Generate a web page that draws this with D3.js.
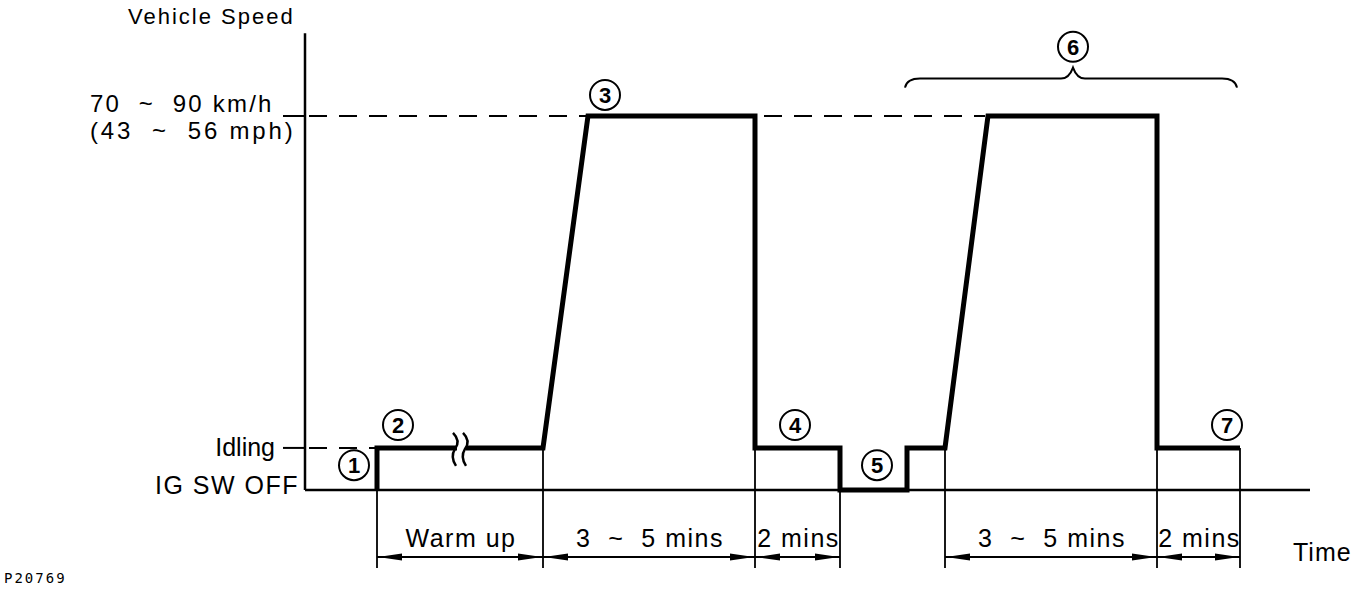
<!DOCTYPE html>
<html>
<head>
<meta charset="utf-8">
<title>Vehicle speed pattern</title>
<script src="https://cdnjs.cloudflare.com/ajax/libs/d3/7.8.5/d3.min.js"></script>
<style>
  body { margin: 0; background: #fff; }
  text { font-family: "Liberation Sans", Arial, sans-serif; fill: #000; white-space: pre; }
</style>
</head>
<body>
<script>
// speed levels (arbitrary units): IG SW OFF, Idling, 70~90 km/h
const speedLevels = [0, 9, 80];
const levelLabels = ["IG SW OFF", "Idling", "70  ~  90 km/h"];

// speed trace, time in arbitrary units
const traceTime  = [72, 72, 238, 283, 450, 450, 535, 535, 602, 602, 640, 683, 852, 852, 935];
const traceSpeed = [0, 9, 9, 80, 80, 9, 9, 0, 0, 9, 9, 80, 80, 9, 9];

// dimension spans under the time axis
const spanStart  = [72, 238, 450, 640, 852];
const spanEnd    = [238, 450, 535, 852, 935];
const spanLabels = ["Warm up", "3  ~  5 mins", "2 mins", "3  ~  5 mins", "2 mins"];

// circled step numbers
const stepLabels = ["1", "2", "3", "4", "5", "6", "7"];
const stepTime   = [49, 93, 300, 490, 572, 768, 922];
const stepSpeed  = [5.3, 13.9, 84.5, 13.9, 5.3, 94.8, 13.9];

const width = 1360, height = 590;

const x = d3.scaleLinear().domain([0, 1005]).range([305, 1310]);
const y = d3.scaleLinear().domain([0, 80]).range([490, 116]);

const svg = d3.select('body').append('svg')
  .attr('width', width)
  .attr('height', height);

svg.append('rect').attr('width', width).attr('height', height).attr('fill', '#fff');

// dashed guide lines
const dashes = [[0, 72, 9], [0, 283, 80], [455, 680, 80]];
svg.selectAll('line.guide')
  .data(dashes)
  .enter()
  .append('line')
  .attr('class', 'guide')
  .attr('x1', d => x(d[0]) + 4)
  .attr('x2', d => x(d[1]))
  .attr('y1', d => y(d[2]))
  .attr('y2', d => y(d[2]))
  .attr('stroke', '#000')
  .attr('stroke-width', 2)
  .attr('stroke-dasharray', '18,12');

// axes
svg.append('line')
  .attr('x1', x(0)).attr('x2', x(0))
  .attr('y1', y(97.7)).attr('y2', y(0))
  .attr('stroke', '#000').attr('stroke-width', 2.5);
svg.append('line')
  .attr('x1', x(0)).attr('x2', x(1005))
  .attr('y1', y(0)).attr('y2', y(0))
  .attr('stroke', '#000').attr('stroke-width', 2.5);

// level ticks
svg.selectAll('line.tick')
  .data(speedLevels.slice(1))
  .enter()
  .append('line')
  .attr('x1', x(0) - 22).attr('x2', x(0))
  .attr('y1', d => y(d)).attr('y2', d => y(d))
  .attr('stroke', '#000').attr('stroke-width', 2);

// extension lines
const bounds = Array.from(new Set(spanStart.concat(spanEnd)));
svg.selectAll('line.ext')
  .data(bounds)
  .enter()
  .append('line')
  .attr('x1', d => x(d)).attr('x2', d => x(d))
  .attr('y1', y(9)).attr('y2', 568)
  .attr('stroke', '#000').attr('stroke-width', 1.8);

// speed trace
const line = d3.line()
  .x(i => x(traceTime[i]))
  .y(i => y(traceSpeed[i]));

svg.append('path')
  .attr('d', line(d3.range(traceTime.length)))
  .attr('fill', 'none')
  .attr('stroke', '#000')
  .attr('stroke-width', 5)
  .attr('stroke-linejoin', 'miter');

// break mark on the warm-up line
const bx = x(155), by = y(9);
svg.append('rect')
  .attr('x', bx - 3).attr('y', by - 5)
  .attr('width', 9).attr('height', 10)
  .attr('fill', '#fff');
[-5, 5].forEach(off => {
  svg.append('path')
    .attr('d', `M${bx + off - 2},${by - 15} Q${bx + off + 6},${by - 7} ${bx + off},${by + 1} Q${bx + off - 5},${by + 9} ${bx + off + 1},${by + 18}`)
    .attr('fill', 'none').attr('stroke', '#000').attr('stroke-width', 2.5);
});

// dimension lines with arrows
const dimY = 557;
const arrow = (tipX, dir) => `M${tipX},${dimY} L${tipX + dir * 24},${dimY - 3.5} L${tipX + dir * 24},${dimY + 3.5} Z`;
spanStart.forEach((s, i) => {
  const x1 = x(s), x2 = x(spanEnd[i]);
  svg.append('line')
    .attr('x1', x1).attr('x2', x2)
    .attr('y1', dimY).attr('y2', dimY)
    .attr('stroke', '#000').attr('stroke-width', 2);
  svg.append('path').attr('d', arrow(x1 + 1, 1)).attr('fill', '#000');
  svg.append('path').attr('d', arrow(x2 - 1, -1)).attr('fill', '#000');
  svg.append('text')
    .attr('x', (x1 + x2) / 2 + 1)
    .attr('y', 547)
    .attr('text-anchor', 'middle')
    .attr('font-size', 25)
    .attr('letter-spacing', 1.5)
    .text(spanLabels[i]);
});

// circled step numbers
const steps = svg.selectAll('g.step')
  .data(stepLabels)
  .enter()
  .append('g')
  .attr('transform', (d, i) => `translate(${x(stepTime[i])},${y(stepSpeed[i])})`);
steps.append('circle')
  .attr('r', 15)
  .attr('fill', '#fff')
  .attr('stroke', '#000')
  .attr('stroke-width', 2);
steps.append('text')
  .attr('text-anchor', 'middle')
  .attr('y', 8)
  .attr('font-size', 22)
  .attr('font-weight', 'bold')
  .text(d => d);

// brace over the repeat cycle
const b0 = x(600), b1 = x(932), bm = x(768), byy = y(88);
svg.append('path')
  .attr('d', `M${b0},${byy + 9} Q${b0 + 2},${byy} ${b0 + 15},${byy} L${bm - 12},${byy} Q${bm - 4},${byy} ${bm},${byy - 11} Q${bm + 4},${byy} ${bm + 12},${byy} L${b1 - 15},${byy} Q${b1 - 2},${byy} ${b1},${byy + 9}`)
  .attr('fill', 'none')
  .attr('stroke', '#000')
  .attr('stroke-width', 2);

// axis labels
svg.append('text')
  .attr('x', 128).attr('y', 24)
  .attr('font-size', 22).attr('letter-spacing', 2)
  .text('Vehicle Speed');

svg.append('text')
  .attr('x', 90).attr('y', 112)
  .attr('font-size', 24).attr('letter-spacing', 2.2)
  .text(levelLabels[2]);
svg.append('text')
  .attr('x', 90).attr('y', 139)
  .attr('font-size', 24).attr('letter-spacing', 2.8)
  .text('(43  ~  56 mph)');

svg.append('text')
  .attr('x', 275).attr('y', y(9) + 8)
  .attr('text-anchor', 'end')
  .attr('font-size', 25)
  .text(levelLabels[1]);
svg.append('text')
  .attr('x', 299).attr('y', y(0) + 4)
  .attr('text-anchor', 'end')
  .attr('font-size', 25).attr('letter-spacing', 1.5)
  .text(levelLabels[0]);

svg.append('text')
  .attr('x', 1293).attr('y', 561)
  .attr('font-size', 25).attr('letter-spacing', 1)
  .text('Time');

svg.append('text')
  .attr('x', 4).attr('y', 583)
  .attr('font-size', 14).attr('letter-spacing', 2)
  .style('font-family', '"DejaVu Sans Mono", monospace')
  .text('P20769');
</script>
</body>
</html>
